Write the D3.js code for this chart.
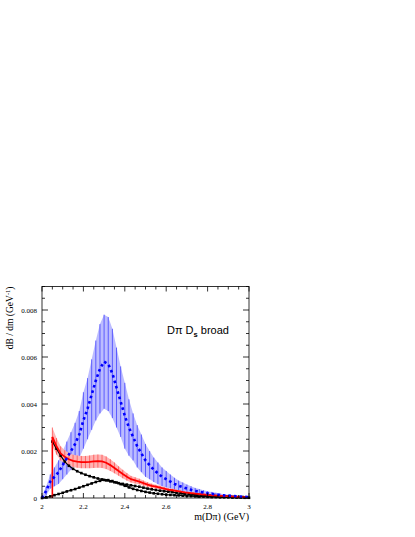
<!DOCTYPE html>
<html>
<head>
<meta charset="utf-8">
<script src="https://cdn.jsdelivr.net/npm/d3@7"></script>
<style>
  body { margin: 0; background: #fff; }
</style>
</head>
<body>
<div id="chart"></div>
<script>
// bin centres (GeV)
const massFull = d3.range(0, 51).map(i => +(2 + i * 0.02).toFixed(2));    // 2.00 .. 3.00
const massThr  = d3.range(0, 48).map(i => +(2.05 + i * 0.02).toFixed(2)); // 2.05 .. 2.99

// blue: broad D pi, dashed line with error bars
const blueValues = [
  0.0000, 0.0003, 0.0007, 0.0009, 0.0011, 0.0014, 0.0017, 0.0020, 0.0023, 0.0027,
  0.0033, 0.0038, 0.0044, 0.0050, 0.0055, 0.0058, 0.0057, 0.0053, 0.0047, 0.0041,
  0.0035, 0.0030, 0.0026, 0.0022, 0.0019, 0.0016, 0.0014, 0.0012, 0.00105, 0.0009,
  0.0008, 0.0007, 0.0006, 0.00052, 0.00046, 0.0004, 0.00035, 0.0003, 0.00027, 0.00023,
  0.0002, 0.00018, 0.00015, 0.00013, 0.00011, 0.0001, 0.00009, 0.00007, 0.00006, 0.00005,
  0.00004
];
const blueErrors = [
  0.00005, 0.0002, 0.0003, 0.0004, 0.0005, 0.0006, 0.0007, 0.0008, 0.0009, 0.0010,
  0.0012, 0.0013, 0.0015, 0.0017, 0.0019, 0.0020, 0.0020, 0.0019, 0.0017, 0.0015,
  0.0014, 0.0012, 0.0010, 0.0009, 0.0008, 0.0007, 0.0006, 0.00052, 0.00046, 0.0004,
  0.00035, 0.0003, 0.00026, 0.00022, 0.0002, 0.00017, 0.00015, 0.00013, 0.00011, 0.0001,
  0.00009, 0.00008, 0.00007, 0.00006, 0.00005, 0.00004, 0.00004, 0.00003, 0.00003, 0.00002,
  0.00002
];

// red: total, solid line with error bars, starts at threshold
const redValues = [
  0.0026, 0.0022, 0.0019, 0.00175, 0.00165, 0.00158, 0.00155, 0.00153, 0.00153, 0.00154,
  0.00156, 0.00157, 0.00156, 0.0015, 0.0014, 0.00128, 0.00115, 0.00102, 0.0009, 0.0008,
  0.00075, 0.0007, 0.00063, 0.00057, 0.00052, 0.00048, 0.00044, 0.0004, 0.00036, 0.00033,
  0.0003, 0.00027, 0.00024, 0.00022, 0.0002, 0.00018, 0.00016, 0.00014, 0.00012, 0.00011,
  0.0001, 0.00009, 0.00008, 0.00007, 0.00006, 0.00005, 0.00004, 0.00003
];
const redErrors = [
  0.0004, 0.00035, 0.0003, 0.00028, 0.00027, 0.00026, 0.00026, 0.00026, 0.00026, 0.00027,
  0.00028, 0.00028, 0.00028, 0.00027, 0.00025, 0.00023, 0.0002, 0.00018, 0.00016, 0.00014,
  0.00013, 0.00012, 0.00011, 0.0001, 0.00009, 0.00008, 0.00008, 0.00007, 0.00006, 0.00006,
  0.00005, 0.00005, 0.00004, 0.00004, 0.00004, 0.00003, 0.00003, 0.00003, 0.00002, 0.00002,
  0.00002, 0.00002, 0.00002, 0.00001, 0.00001, 0.00001, 0.00001, 0.00001
];

// black: threshold component (falling) and bump component (rising)
const blackFalling = [
  0.0024, 0.0021, 0.0018, 0.00155, 0.00137, 0.00124, 0.00114, 0.00106, 0.00099, 0.00093,
  0.00088, 0.00083, 0.00079, 0.00075, 0.00071, 0.00067, 0.00063, 0.0006, 0.00057, 0.00054,
  0.00051, 0.00048, 0.00044, 0.0004, 0.00037, 0.00034, 0.00031, 0.00029, 0.00027, 0.00025,
  0.00022, 0.0002, 0.00018, 0.00016, 0.00015, 0.00014, 0.00012, 0.00011, 0.0001, 0.00009,
  0.00008, 0.00007, 0.00006, 0.00006, 0.00005, 0.00004, 0.00004, 0.00003
];
const blackBump = [
  0.0, 0.00003, 0.00007, 0.00012, 0.00017, 0.00022, 0.00028, 0.00033, 0.00038, 0.00044,
  0.0005, 0.00056, 0.00062, 0.00068, 0.00073, 0.00077, 0.00076, 0.00072, 0.00066, 0.00059,
  0.00052, 0.00045, 0.00039, 0.00034, 0.0003, 0.00026, 0.00023, 0.0002, 0.00018, 0.00016,
  0.00014, 0.00013, 0.00012, 0.00011, 0.0001, 0.00009, 0.00008, 0.00007, 0.00006, 0.00006,
  0.00005, 0.00004, 0.00004, 0.00003, 0.00003, 0.00003, 0.00002, 0.00002, 0.00002, 0.00001,
  0.00001
];

const xTickLabels = ["2", "2.2", "2.4", "2.6", "2.8", "3"];
const yTickLabels = ["0", "0.002", "0.004", "0.006", "0.008"];

// --- layout
const width = 415, height = 537;
const plotLeft = 42, plotRight = 249, plotTop = 286.5, plotBottom = 498;

const svg = d3.select("#chart")
    .append("svg")
    .attr("width", width)
    .attr("height", height);

const x = d3.scaleLinear().domain([2, 3]).range([plotLeft, plotRight]);
const y = d3.scaleLinear().domain([0, 0.009]).range([plotBottom, plotTop]);

const plot = svg.append("g");

// blue error bars: light band + darker vertical lines
const blueData = massFull.map((m, i) => ({ m: m, v: blueValues[i], e: blueErrors[i] }));
plot.append("path")
    .datum(blueData)
    .attr("fill", "#bcbcff")
    .attr("d", d3.area().x(d => x(d.m)).y0(d => y(Math.max(0, d.v - d.e))).y1(d => y(d.v + d.e)));
plot.selectAll("line.berr")
    .data(blueData)
    .join("line")
    .attr("class", "berr")
    .attr("x1", d => x(d.m)).attr("x2", d => x(d.m))
    .attr("y1", d => y(Math.max(0, d.v - d.e))).attr("y2", d => y(d.v + d.e))
    .attr("stroke", "#5050ff")
    .attr("stroke-width", 0.9);

// red error bars
const redData = massThr.map((m, i) => ({ m: m, v: redValues[i], e: redErrors[i] }));
plot.append("path")
    .datum(redData)
    .attr("fill", "#ffb4b4")
    .attr("d", d3.area().x(d => x(d.m)).y0(d => y(d.v - d.e)).y1(d => y(d.v + d.e)));
plot.selectAll("line.rerr")
    .data(redData)
    .join("line")
    .attr("class", "rerr")
    .attr("x1", d => x(d.m)).attr("x2", d => x(d.m))
    .attr("y1", d => y(d.v - d.e)).attr("y2", d => y(d.v + d.e))
    .attr("stroke", "#ff5050")
    .attr("stroke-width", 0.8);

// black curves with small markers
const blackSeries = [
  massThr.map((m, i) => ({ m: m, v: blackFalling[i] })),
  massFull.map((m, i) => ({ m: m, v: blackBump[i] }))
];
const line = d3.line().x(d => x(d.m)).y(d => y(d.v));
blackSeries.forEach(s => {
    plot.append("path")
        .datum(s)
        .attr("fill", "none")
        .attr("stroke", "#000")
        .attr("stroke-width", 1.2)
        .attr("d", line);
    plot.append("g").selectAll("rect")
        .data(s)
        .join("rect")
        .attr("x", d => x(d.m) - 1.3)
        .attr("y", d => y(d.v) - 1.3)
        .attr("width", 2.6)
        .attr("height", 2.6)
        .attr("fill", "#000");
});

// red line, with the vertical rise at threshold
plot.append("line")
    .attr("x1", x(massThr[0])).attr("x2", x(massThr[0]))
    .attr("y1", y(0)).attr("y2", y(redValues[0]))
    .attr("stroke", "#ff0000")
    .attr("stroke-width", 1.6);
plot.append("path")
    .datum(redData)
    .attr("fill", "none")
    .attr("stroke", "#ff0000")
    .attr("stroke-width", 1.8)
    .attr("d", line);

// blue dashed line
plot.append("path")
    .datum(blueData)
    .attr("fill", "none")
    .attr("stroke", "#0000ff")
    .attr("stroke-width", 2.6)
    .attr("stroke-dasharray", "2.6,3")
    .attr("d", line);

// --- frame and ticks (pointing inward on all four sides)
const axes = svg.append("g").attr("stroke", "#000").attr("stroke-width", 0.8);
axes.append("rect")
    .attr("x", plotLeft).attr("y", plotTop)
    .attr("width", plotRight - plotLeft).attr("height", plotBottom - plotTop)
    .attr("fill", "none");

const xMinor = d3.range(0, 21).map(i => 2 + i * 0.05);
xMinor.forEach((t, i) => {
    const len = i % 4 === 0 ? 5 : 3;
    axes.append("line").attr("x1", x(t)).attr("x2", x(t)).attr("y1", plotBottom).attr("y2", plotBottom - len);
    axes.append("line").attr("x1", x(t)).attr("x2", x(t)).attr("y1", plotTop).attr("y2", plotTop + len);
});
const yMinor = d3.range(0, 19).map(i => i * 0.0005);
yMinor.forEach((t, i) => {
    const len = i % 4 === 0 ? 6 : 3;
    axes.append("line").attr("x1", plotLeft).attr("x2", plotLeft + len).attr("y1", y(t)).attr("y2", y(t));
    axes.append("line").attr("x1", plotRight).attr("x2", plotRight - len).attr("y1", y(t)).attr("y2", y(t));
});

// tick labels
const serif = "'Liberation Serif', 'DejaVu Serif', serif";
svg.append("g").selectAll("text")
    .data(xTickLabels)
    .join("text")
    .attr("x", d => x(+d))
    .attr("y", plotBottom + 11)
    .attr("text-anchor", "middle")
    .attr("font-family", serif)
    .attr("font-size", 7)
    .text(d => d);
svg.append("g").selectAll("text")
    .data(yTickLabels)
    .join("text")
    .attr("x", plotLeft - 5)
    .attr("y", d => y(+d) + 2.5)
    .attr("text-anchor", "end")
    .attr("font-family", serif)
    .attr("font-size", 7)
    .text(d => d);

// axis titles
svg.append("text")
    .attr("x", plotRight)
    .attr("y", plotBottom + 22)
    .attr("text-anchor", "end")
    .attr("font-family", serif)
    .attr("font-size", 10)
    .text("m(Dπ) (GeV)");

const yTitle = svg.append("text")
    .attr("transform", `translate(13, ${plotTop}) rotate(-90)`)
    .attr("text-anchor", "end")
    .attr("font-family", serif)
    .attr("font-size", 9.5);
yTitle.append("tspan").text("dB / dm (GeV");
yTitle.append("tspan").attr("dy", -3.5).attr("font-size", 6.5).text("-1");
yTitle.append("tspan").attr("dy", 3.5).text(")");

// legend label
const label = svg.append("text")
    .attr("x", 167)
    .attr("y", 334)
    .attr("font-family", "'Liberation Sans', Arial, sans-serif")
    .attr("font-size", 11);
label.append("tspan").text("Dπ D");
label.append("tspan").attr("dy", 2.5).attr("font-size", 7.5).attr("font-weight", "bold").text("s");
label.append("tspan").attr("dy", -2.5).text(" broad");
</script>
</body>
</html>
